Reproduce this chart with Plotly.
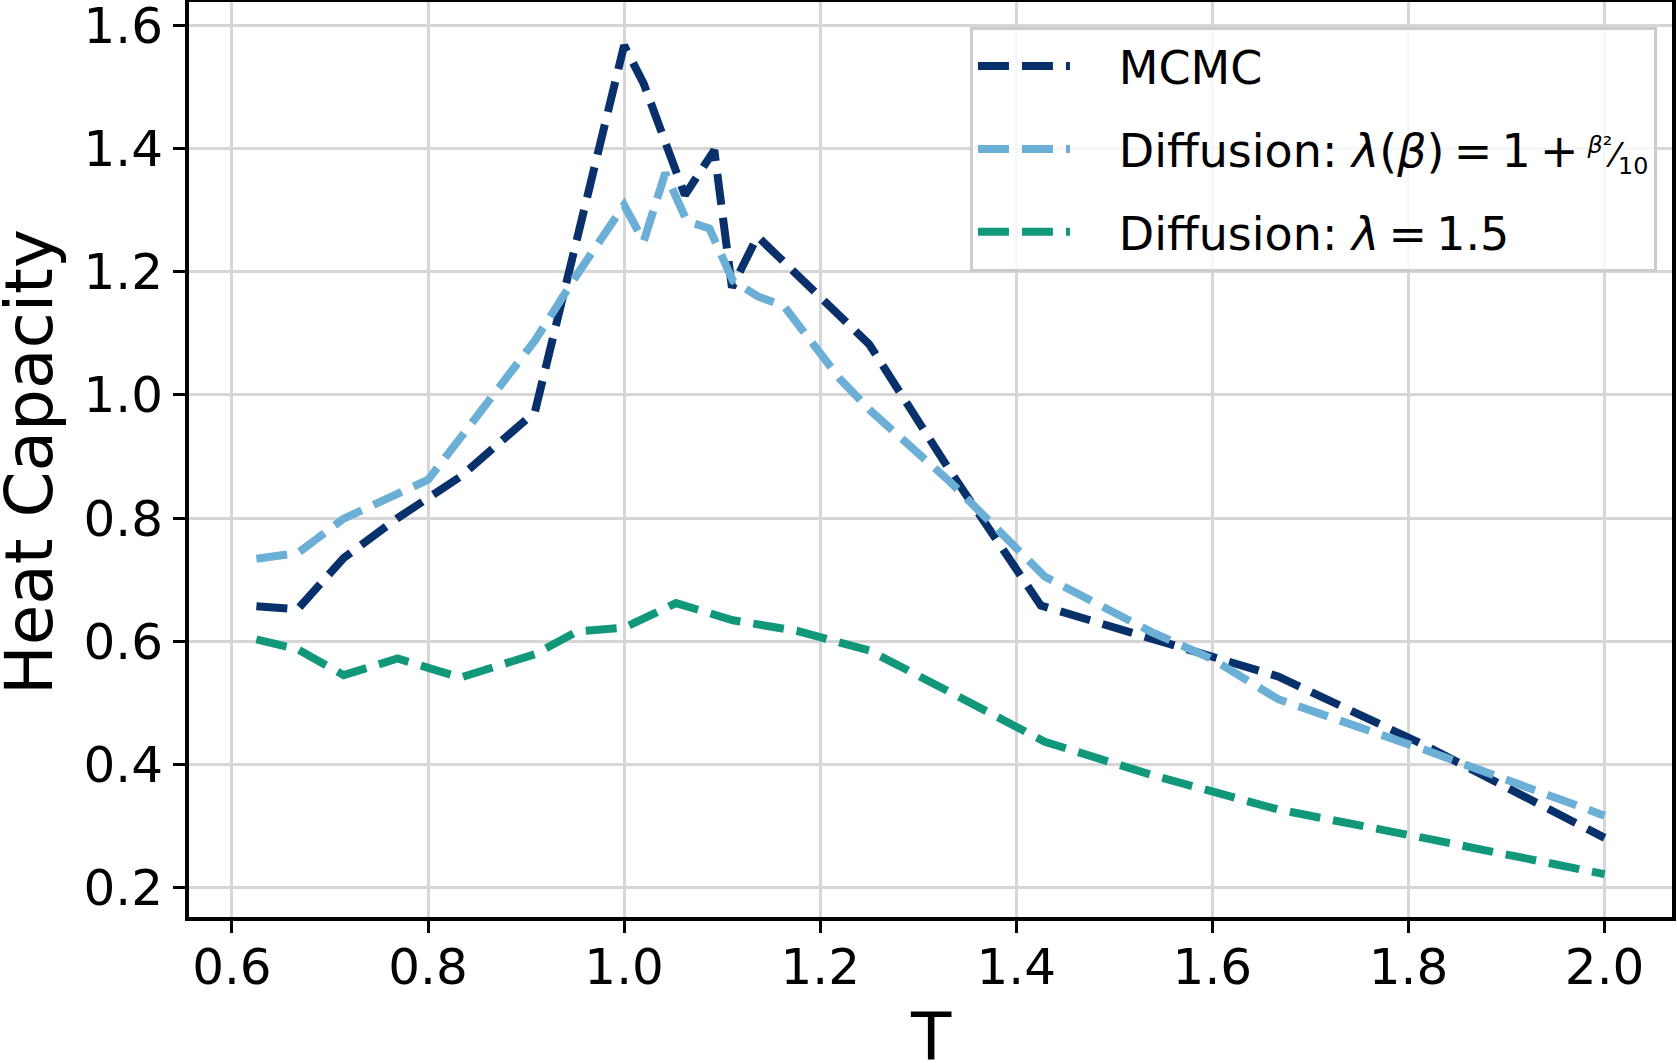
import plotly.graph_objects as go

# --- data ---
T_mcmc = [0.625, 0.667, 0.714, 0.769, 0.833, 0.909, 1.0, 1.02, 1.062, 1.092, 1.11, 1.136,
          1.25, 1.333, 1.425, 1.538, 1.667, 1.818, 2.0]
C_mcmc = [0.657, 0.652, 0.735, 0.800, 0.867, 0.972, 1.567, 1.505, 1.324, 1.397, 1.174, 1.257,
          1.082, 0.875, 0.658, 0.603, 0.543, 0.430, 0.281]

T_diff_beta = [0.625, 0.667, 0.714, 0.769, 0.8, 0.833, 0.87, 0.909, 0.952, 1.0, 1.02, 1.042,
               1.064, 1.087, 1.111, 1.136, 1.163, 1.19, 1.22, 1.25, 1.333, 1.429, 1.538,
               1.6, 1.667, 1.818, 2.0]
C_diff_beta = [0.734, 0.743, 0.799, 0.838, 0.862, 0.930, 1.007, 1.088, 1.195, 1.308, 1.249, 1.360,
               1.282, 1.270, 1.185, 1.160, 1.144, 1.088, 1.026, 0.976, 0.858, 0.705, 0.615,
               0.571, 0.506, 0.423, 0.317]

T_diff_const = [0.625, 0.667, 0.714, 0.769, 0.833, 0.909, 0.952, 1.0, 1.053, 1.111, 1.176,
                1.25, 1.333, 1.429, 1.538, 1.667, 1.818, 2.0]
C_diff_const = [0.603, 0.587, 0.545, 0.572, 0.541, 0.579, 0.616, 0.622, 0.662, 0.634, 0.617,
                0.585, 0.517, 0.437, 0.383, 0.327, 0.280, 0.222]

names = ["MCMC",
         "Diffusion: <i>λ</i>(<i>β</i>)\u2009=\u20091\u2009+\u2009"
         "<span style='font-size:34px'><sup><i>β</i>²</sup>⁄<sub>10</sub></span>",
         "Diffusion: <i>λ</i>\u2009=\u20091.5"]
colors = ["#08306b", "#6baed6", "#11987a"]

x_ticks = [0.6, 0.8, 1.0, 1.2, 1.4, 1.6, 1.8, 2.0]
y_ticks = [0.2, 0.4, 0.6, 0.8, 1.0, 1.2, 1.4, 1.6]
x_title = "T"
y_title = "Heat Capacity"

FONT = "DejaVu Sans"
dash = "31px,13px"
GAP = "\u00a0\u00a0\u00a0"

W, H = 1677, 1063
ML, MR, MT, MB = 189, 5, 2, 146
plot_w = W - ML - MR
plot_h = H - MT - MB

fig = go.Figure()
for i, (xs, ys, nm, col) in enumerate([(T_mcmc, C_mcmc, names[0], colors[0]),
                                       (T_diff_beta, C_diff_beta, names[1], colors[1]),
                                       (T_diff_const, C_diff_const, names[2], colors[2])]):
    fig.add_trace(go.Scatter(x=xs, y=ys, mode="lines", name=GAP + nm, legendgroup=f"g{i}",
                             line=dict(color=col, width=8, dash=dash)))

fig.update_layout(
    width=W, height=H,
    margin=dict(l=ML, r=MR, t=MT, b=MB, autoexpand=False),
    plot_bgcolor="white", paper_bgcolor="white",
    font=dict(family=FONT, color="black", size=50),
    legend=dict(x=0.5266, y=0.973, xanchor="left", yanchor="top",
                bgcolor="rgba(255,255,255,0.8)", bordercolor="#cccccc", borderwidth=3,
                font=dict(family=FONT, size=46, color="black"),
                itemwidth=92, tracegroupgap=20),
    showlegend=True,
)
axis_common = dict(showline=True, linecolor="black", linewidth=4, mirror=True,
                   showgrid=True, gridcolor="#d6d6d6", gridwidth=2.5,
                   ticks="outside", ticklen=12, tickwidth=3, tickcolor="black",
                   tickfont=dict(family=FONT, size=50, color="black"),
                   ticklabeloverflow="allow",
                   zeroline=False, automargin=False, tickformat=".1f")
fig.update_xaxes(range=[0.55625, 2.06875], tickvals=x_ticks, ticklabelstandoff=-9,
                 **axis_common)
fig.update_yaxes(range=[0.1525, 1.6375], tickvals=y_ticks, **axis_common)

# axis titles placed as annotations (reference lets them touch the page edge)
fig.add_annotation(text=x_title, xref="paper", yref="paper",
                   x=0.5, y=(H - MB - 1037) / plot_h, xanchor="center", yanchor="middle",
                   showarrow=False, font=dict(family=FONT, size=66, color="black"))
fig.add_annotation(text=y_title, xref="paper", yref="paper", textangle=-90,
                   x=(29 - ML) / plot_w, y=(H - MB - 462) / plot_h,
                   xanchor="center", yanchor="middle",
                   showarrow=False, font=dict(family=FONT, size=66, color="black"))

fig.write_html("out.html")
